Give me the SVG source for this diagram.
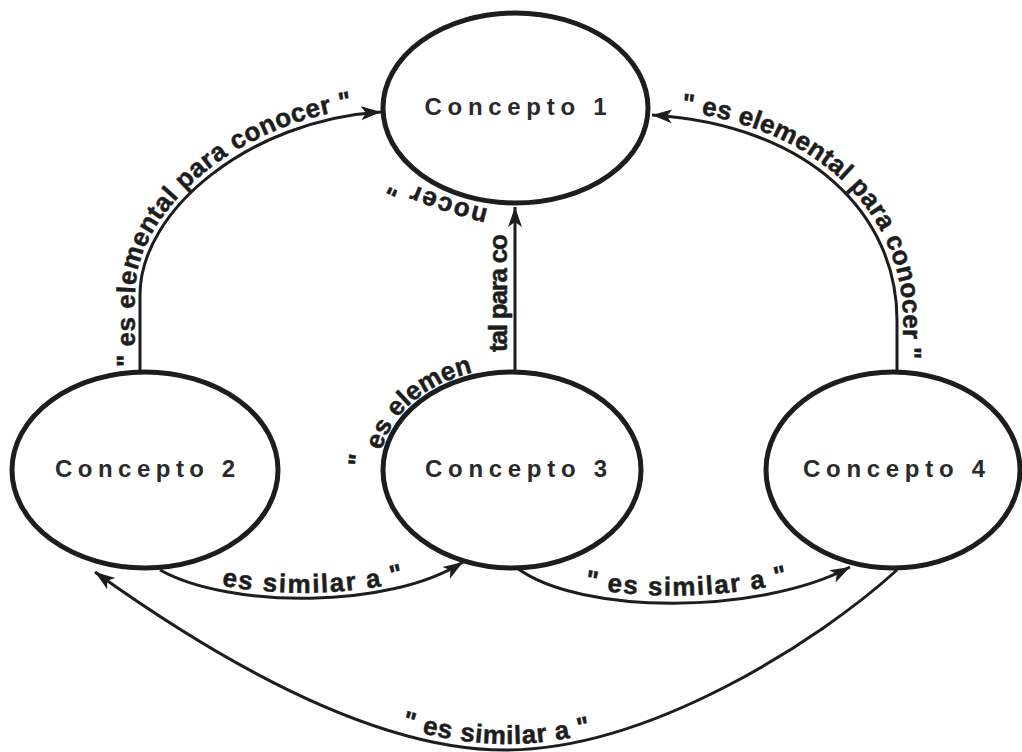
<svg xmlns="http://www.w3.org/2000/svg" width="1022" height="752" viewBox="0 0 1022 752">
  <style>
    .node ellipse { fill: #ffffff; stroke: #1d1d1d; stroke-width: 5; }
    .node text { font-family: "Liberation Sans", Arial, sans-serif; font-weight: bold; font-size: 24px; fill: #2a2a2a; text-anchor: middle; }
    .edge { fill: none; stroke: #1d1d1d; stroke-width: 3; marker-end: url(#arrow); }
    .lbl { font-family: "Liberation Sans", Arial, sans-serif; font-weight: bold; font-size: 26px; fill: #1d1d1d; stroke: #1d1d1d; stroke-width: 0.5; }
  </style>
  <defs>
    <marker id="arrow" markerUnits="userSpaceOnUse" markerWidth="24" markerHeight="16" refX="20" refY="8" orient="auto">
      <path d="M0,1 L20,8 L0,15 L5,8 Z" fill="#1d1d1d"/>
    </marker>
    <!-- baselines for the link labels -->
    <path id="tpA" d="M135,372 L135,295 C135,206 247,114 381,106"/>
    <path id="tpB" d="M655,109 C815,119 903,212 903,320 L903,375"/>
    <path id="tpC1" d="M380.3,484.2 A133,102 0 0 1 512,368"/>
    <path id="tpC2" d="M507,372 L507,205"/>
    <path id="tpC3" d="M500,212 C470,205 420,192 360,160"/>
    <path id="tpD" d="M163,566 C232,603 390,603 461,558"/>
    <path id="tpE" d="M519,562 C580,607 760,607 848,561"/>
    <path id="tpF" d="M95,566 C190,634 360,744 507,744 C654,744 824,634 892,566"/>
  </defs>

  <rect width="1022" height="752" fill="#ffffff"/>

  <g id="concepto-1" class="node">
    <ellipse cx="515.5" cy="108" rx="132.5" ry="95"/>
    <text x="515.5" y="115" textLength="182" lengthAdjust="spacing">Concepto 1</text>
  </g>
  <g id="concepto-2" class="node">
    <ellipse cx="145" cy="470" rx="133" ry="98"/>
    <text x="145" y="477" textLength="180" lengthAdjust="spacing">Concepto 2</text>
  </g>
  <g id="concepto-3" class="node">
    <ellipse cx="512" cy="470" rx="129" ry="98"/>
    <text x="516" y="477" textLength="182" lengthAdjust="spacing">Concepto 3</text>
  </g>
  <g id="concepto-4" class="node">
    <ellipse cx="893" cy="470" rx="127" ry="98"/>
    <text x="894" y="477" textLength="182" lengthAdjust="spacing">Concepto 4</text>
  </g>

  <g id="connectors">
    <path class="edge" d="M140,372 L140,295 C140,210 250,120 381,112"/>
    <path class="edge" d="M897,372 L897,320 C897,215 810,125 652,115"/>
    <path class="edge" d="M515,370 L515,207"/>
    <path class="edge" d="M160,570 C230,609 390,609 463,562"/>
    <path class="edge" d="M517,568 C580,615 760,615 850,567"/>
    <path class="edge" d="M897,570 C820,640 650,750 505,750 C360,750 190,640 95,572"/>

    <text class="lbl"><textPath href="#tpA" startOffset="5" textLength="380" lengthAdjust="spacing">" es elemental para conocer "</textPath></text>
    <text class="lbl"><textPath href="#tpB" startOffset="26" textLength="374" lengthAdjust="spacing">" es elemental para conocer "</textPath></text>
    <!-- the middle link label wraps around Concepto 3, runs up the line and under Concepto 1 -->
    <text class="lbl" transform="translate(366,467) rotate(-84)">"</text>
    <text class="lbl"><textPath href="#tpC1" startOffset="34" textLength="126" lengthAdjust="spacing">es elemen</textPath></text>
    <text class="lbl"><textPath href="#tpC2" startOffset="20" textLength="118" lengthAdjust="spacing">tal para co</textPath></text>
    <text class="lbl"><textPath href="#tpC3" startOffset="12" textLength="102" lengthAdjust="spacing">nocer "</textPath></text>
    <text class="lbl" text-anchor="middle"><textPath href="#tpD" startOffset="50%" textLength="184" lengthAdjust="spacing">es similar a "</textPath></text>
    <text class="lbl" text-anchor="middle"><textPath href="#tpE" startOffset="51%" textLength="205" lengthAdjust="spacing">" es similar a "</textPath></text>
    <text class="lbl" text-anchor="middle"><textPath href="#tpF" startOffset="50%" textLength="192" lengthAdjust="spacing">" es similar a "</textPath></text>
  </g>
</svg>
